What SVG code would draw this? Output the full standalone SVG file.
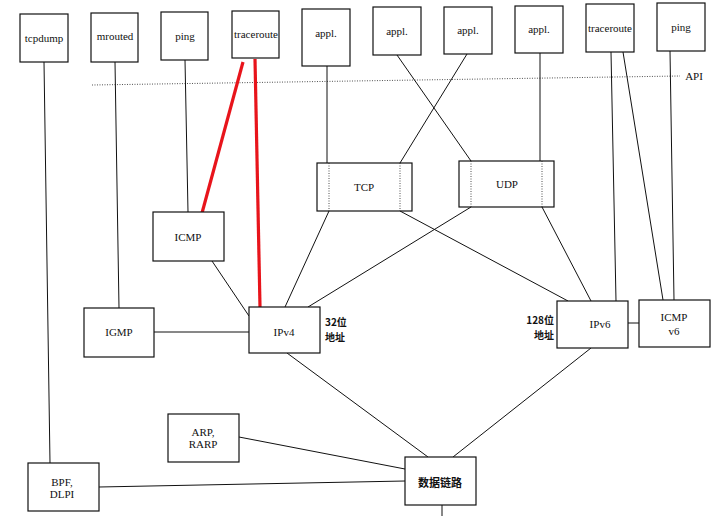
<svg xmlns="http://www.w3.org/2000/svg" width="716" height="516" viewBox="0 0 716 516">
<style>
.box{fill:#fff;stroke:#111;stroke-width:1.2}
.ln{stroke:#111;stroke-width:1;fill:none}
.red{stroke:#e8141b;stroke-width:3.2;fill:none}
.dot{stroke:#222;stroke-width:0.8;stroke-dasharray:1 1.5;fill:none}
.t{font-family:"Liberation Serif","Times New Roman",serif;font-size:11px;fill:#111;text-anchor:middle}
.c{font-family:"Noto Sans CJK SC","Noto Sans",sans-serif;font-size:10px;font-weight:bold;fill:#111}
.cb{font-family:"Noto Sans CJK SC","Noto Sans",sans-serif;font-size:11px;font-weight:bold;fill:#111}
</style>
<rect width="716" height="516" fill="#fff"/>
<g id="connectors">
<line class="dot" x1="92" y1="85" x2="680" y2="76"/>
<line class="ln" x1="44" y1="62" x2="50" y2="463"/>
<line class="ln" x1="115" y1="62" x2="119" y2="308"/>
<line class="ln" x1="185" y1="60" x2="188" y2="212"/>
<line class="ln" x1="327" y1="66" x2="327" y2="163"/>
<line class="ln" x1="397" y1="55" x2="471" y2="161"/>
<line class="ln" x1="467" y1="54" x2="400" y2="163"/>
<line class="ln" x1="540" y1="53" x2="540" y2="161"/>
<line class="ln" x1="611" y1="52" x2="616" y2="301"/>
<line class="ln" x1="623" y1="52" x2="663" y2="300"/>
<line class="ln" x1="670" y1="51" x2="674" y2="300"/>
<line class="ln" x1="212" y1="261" x2="249" y2="316"/>
<line class="ln" x1="154" y1="332" x2="249" y2="332"/>
<line class="ln" x1="329" y1="211" x2="285" y2="307"/>
<line class="ln" x1="471" y1="207" x2="308" y2="307"/>
<line class="ln" x1="400" y1="211" x2="568" y2="301"/>
<line class="ln" x1="542" y1="207" x2="591" y2="301"/>
<line class="ln" x1="628" y1="323" x2="639" y2="323"/>
<line class="ln" x1="287" y1="353" x2="428" y2="457"/>
<line class="ln" x1="591" y1="348" x2="453" y2="457"/>
<line class="ln" x1="239" y1="437" x2="405" y2="469"/>
<line class="ln" x1="99" y1="487" x2="405" y2="481"/>
<line class="ln" x1="442" y1="505" x2="442" y2="516"/>
<line class="red" x1="243" y1="62" x2="202" y2="213"/>
<line class="red" x1="255" y1="59" x2="260" y2="307"/>
</g>
<text class="t" x="694" y="80">API</text>
<g id="tcpdump"><rect class="box" x="20" y="14" width="48" height="48"/><text class="t" x="44" y="42">tcpdump</text></g>
<g id="mrouted"><rect class="box" x="91" y="13" width="47" height="49"/><text class="t" x="115" y="40">mrouted</text></g>
<g id="ping1"><rect class="box" x="161" y="12" width="47" height="48"/><text class="t" x="185" y="40">ping</text></g>
<g id="traceroute1"><rect class="box" x="232" y="11" width="47" height="47"/><text class="t" x="256" y="38">traceroute</text></g>
<g id="appl1"><rect class="box" x="302" y="9" width="48" height="57"/><text class="t" x="326" y="37">appl.</text></g>
<g id="appl2"><rect class="box" x="373" y="7" width="48" height="48"/><text class="t" x="397" y="35">appl.</text></g>
<g id="appl3"><rect class="box" x="444" y="7" width="48" height="47"/><text class="t" x="468" y="34">appl.</text></g>
<g id="appl4"><rect class="box" x="515" y="6" width="48" height="47"/><text class="t" x="539" y="33">appl.</text></g>
<g id="traceroute2"><rect class="box" x="586" y="4" width="48" height="48"/><text class="t" x="610" y="32">traceroute</text></g>
<g id="ping2"><rect class="box" x="657" y="3" width="48" height="48"/><text class="t" x="681" y="31">ping</text></g>
<g id="tcp"><rect class="box" x="317" y="163" width="95" height="48"/><line class="dot" x1="329" y1="163" x2="329" y2="211"/><line class="dot" x1="400" y1="163" x2="400" y2="211"/><text class="t" x="364" y="191">TCP</text></g>
<g id="udp"><rect class="box" x="459" y="161" width="95" height="46"/><line class="dot" x1="471" y1="161" x2="471" y2="207"/><line class="dot" x1="542" y1="161" x2="542" y2="207"/><text class="t" x="507" y="188">UDP</text></g>
<g id="icmp"><rect class="box" x="153" y="212" width="71" height="49"/><text class="t" x="188" y="241">ICMP</text></g>
<g id="igmp"><rect class="box" x="84" y="308" width="70" height="49"/><text class="t" x="119" y="336">IGMP</text></g>
<g id="ipv4"><rect class="box" x="249" y="307" width="71" height="46"/><text class="t" x="284" y="336">IPv4</text><text class="c" x="325" y="326">32位</text><text class="c" x="325" y="340.5">地址</text></g>
<g id="ipv6"><rect class="box" x="557" y="301" width="71" height="47"/><text class="t" x="600" y="328">IPv6</text><text class="c" x="554" y="324" text-anchor="end">128位</text><text class="c" x="554" y="338.5" text-anchor="end">地址</text></g>
<g id="icmpv6"><rect class="box" x="639" y="300" width="71" height="47"/><text class="t" x="674" y="321">ICMP</text><text class="t" x="674" y="335">v6</text></g>
<g id="arp"><rect class="box" x="168" y="414" width="71" height="48"/><text class="t" x="203" y="436">ARP,</text><text class="t" x="203" y="448">RARP</text></g>
<g id="bpf"><rect class="box" x="28" y="463" width="71" height="48"/><text class="t" x="62" y="486">BPF,</text><text class="t" x="62" y="498">DLPI</text></g>
<g id="datalink"><rect class="box" x="405" y="457" width="71" height="48"/><text class="cb" x="440" y="487" text-anchor="middle">数据链路</text></g>
</svg>
